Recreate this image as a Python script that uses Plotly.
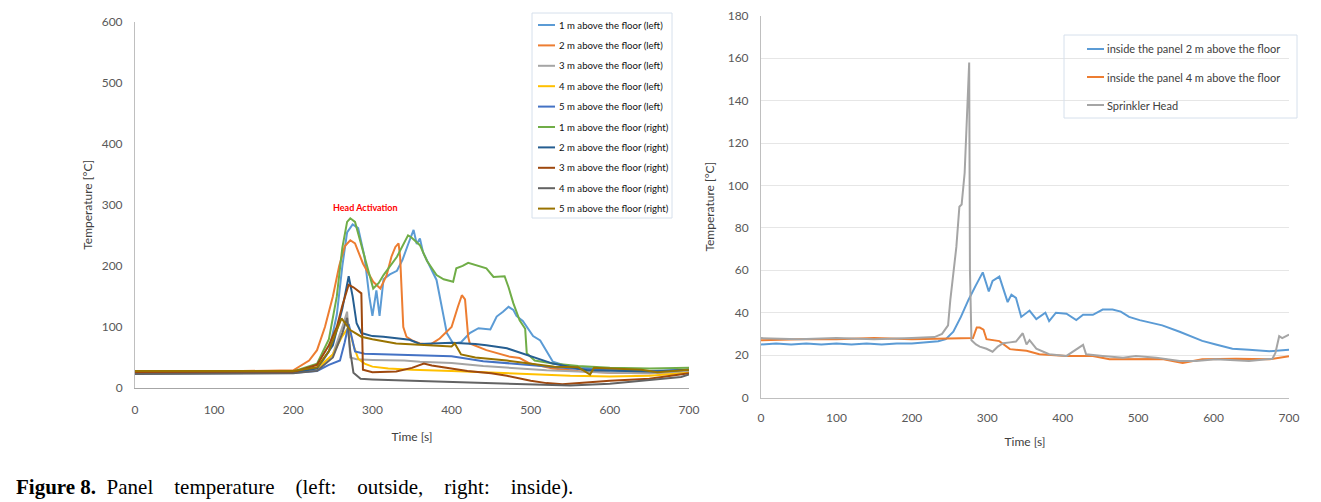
import plotly.graph_objects as go

# ---------------- Left chart (outside panel) ----------------
t_l1 = [0, 100, 200, 230, 245, 255, 262, 268, 275, 282, 290, 296, 300, 305, 309, 314, 322, 331, 338, 345, 352, 356, 360, 364, 373, 381, 390, 394, 402, 412, 423, 434, 449, 457, 465, 472, 478, 482, 490, 503, 512, 520, 528, 540, 560, 600, 650, 700]
T_l1 = [25, 25, 26, 30, 60, 120, 200, 255, 268, 262, 215, 150, 118, 160, 118, 178, 186, 192, 210, 235, 259, 236, 245, 222, 199, 177, 117, 90, 73, 75, 90, 98, 96, 117, 125, 133, 128, 118, 110, 85, 78, 60, 43, 38, 34, 30, 27, 28]

t_l2 = [0, 100, 200, 220, 230, 240, 250, 258, 265, 272, 278, 288, 301, 310, 318, 324, 329, 333, 335, 337, 339, 343, 350, 360, 373, 385, 400, 408, 413, 417, 421, 423, 444, 474, 486, 499, 528, 560, 600, 650, 700]
T_l2 = [27, 27, 29, 45, 62, 100, 150, 200, 232, 242, 237, 204, 174, 163, 185, 215, 231, 237, 215, 144, 100, 84, 78, 73, 71, 81, 100, 133, 152, 145, 84, 73, 62, 51, 49, 40, 32, 28, 25, 24, 27]

t_l3 = [0, 100, 200, 230, 250, 262, 268, 272, 280, 300, 340, 360, 400, 440, 480, 520, 560, 600, 650, 700]
T_l3 = [25, 25, 26, 30, 55, 100, 125, 50, 47, 46, 45, 43, 41, 36, 32, 29, 27, 25, 24, 27]

t_l4 = [0, 100, 200, 230, 250, 262, 270, 276, 282, 290, 300, 320, 350, 400, 450, 500, 550, 600, 650, 700]
T_l4 = [26, 26, 27, 32, 55, 85, 100, 70, 48, 40, 35, 32, 30, 28, 25, 22, 20, 19, 20, 25]

t_l5 = [0, 100, 200, 230, 245, 259, 265, 270, 274, 278, 290, 340, 360, 400, 440, 480, 520, 560, 600, 650, 700]
T_l5 = [24, 24, 25, 28, 38, 45, 75, 105, 80, 60, 56, 54, 54, 52, 44, 40, 35, 31, 29, 28, 30]

t_r1 = [0, 100, 200, 230, 245, 255, 262, 268, 272, 278, 285, 293, 301, 308, 314, 331, 345, 349, 360, 369, 381, 390, 402, 406, 414, 421, 436, 444, 453, 467, 472, 478, 486, 493, 495, 505, 528, 560, 600, 650, 700]
T_r1 = [27, 27, 27, 40, 80, 150, 230, 272, 278, 272, 240, 199, 163, 172, 185, 215, 250, 247, 234, 208, 185, 178, 174, 196, 200, 205, 199, 196, 182, 183, 165, 139, 111, 97, 57, 45, 40, 36, 33, 32, 33]

t_r2 = [0, 100, 200, 230, 250, 262, 270, 275, 280, 286, 300, 314, 347, 360, 400, 430, 444, 470, 495, 528, 571, 655, 700]
T_r2 = [24, 24, 25, 32, 70, 130, 183, 150, 106, 90, 85, 84, 79, 72, 74, 72, 70, 65, 54, 40, 29, 27, 30]

t_r3 = [0, 100, 200, 230, 245, 255, 262, 270, 276, 286, 288, 300, 330, 350, 365, 375, 390, 400, 420, 450, 470, 500, 520, 540, 560, 600, 650, 700]
T_r3 = [25, 25, 26, 38, 70, 100, 135, 169, 165, 155, 30, 26, 27, 33, 40, 37, 34, 33, 28, 24, 20, 12, 8, 6, 8, 12, 15, 24]

t_r4 = [0, 100, 200, 230, 250, 262, 268, 272, 276, 285, 300, 350, 400, 450, 500, 550, 600, 650, 690, 700]
T_r4 = [23, 23, 24, 28, 50, 90, 115, 60, 25, 15, 14, 12, 10, 8, 6, 4, 7, 13, 18, 22]

t_r5 = [0, 100, 200, 230, 245, 255, 261, 272, 286, 300, 330, 400, 404, 412, 430, 470, 500, 530, 560, 575, 580, 600, 640, 660, 700]
T_r5 = [28, 28, 28, 34, 60, 95, 114, 95, 84, 80, 73, 68, 73, 55, 50, 45, 40, 35, 34, 22, 33, 32, 30, 26, 30]

left_names = ["1 m above the floor (left)", "2 m above the floor (left)", "3 m above the floor (left)",
              "4 m above the floor (left)", "5 m above the floor (left)", "1 m above the floor (right)",
              "2 m above the floor (right)", "3 m above the floor (right)", "4 m above the floor (right)",
              "5 m above the floor (right)"]
left_colors = ["#5B9BD5", "#ED7D31", "#A5A5A5", "#FFC000", "#4472C4",
               "#70AD47", "#255E91", "#9E480E", "#636363", "#997300"]
left_t = [t_l1, t_l2, t_l3, t_l4, t_l5, t_r1, t_r2, t_r3, t_r4, t_r5]
left_T = [T_l1, T_l2, T_l3, T_l4, T_l5, T_r1, T_r2, T_r3, T_r4, T_r5]

# ---------------- Right chart (inside panel) ----------------
t_in2 = [0, 20, 40, 60, 80, 100, 120, 140, 160, 180, 200, 220, 235, 245, 255, 265, 275, 285, 294, 302, 307, 316, 320, 327, 332, 338, 345, 356, 365, 377, 382, 391, 405, 418, 427, 440, 453, 466, 477, 488, 502, 515, 532, 555, 572, 585, 603, 625, 647, 674, 700]
T_in2 = [25, 25.5, 25, 25.5, 25, 25.5, 25, 25.5, 25, 25.5, 25.5, 26, 26.5, 27.5, 31, 38, 46, 53, 59, 50, 55, 57, 53, 45, 48.5, 47, 38, 41, 37, 40, 36, 40, 39.5, 36.5, 39, 39, 41.5, 41.5, 40.5, 38, 36.5, 35.5, 34, 31, 28.5, 26.7, 25, 23, 22.5, 21.8, 22.5]

t_in4 = [0, 50, 100, 150, 200, 250, 281, 286, 290, 295, 299, 316, 330, 352, 369, 405, 440, 462, 497, 532, 559, 585, 630, 674, 700]
T_in4 = [27, 27.5, 27.5, 28, 27.5, 28, 28, 33, 33, 32, 27.5, 26.6, 22.8, 22, 20.4, 19.6, 19.6, 18, 18, 18.2, 16.3, 18, 18.3, 18, 19.5]

t_sp = [0, 50, 100, 150, 200, 230, 240, 248, 251, 255, 259, 263, 266, 270, 273, 276, 277, 279, 285, 290, 299, 307, 314, 321, 330, 338, 347, 352, 356, 365, 382, 405, 427, 431, 453, 480, 497, 524, 555, 577, 603, 647, 678, 682, 687, 691, 700]
T_sp = [28, 27.5, 28, 27.5, 28, 28.5, 30, 34, 46, 60, 71, 90, 91, 106, 130, 158, 60, 27, 25, 24, 23, 21.6, 24, 25.6, 26, 26.4, 30.3, 25, 27, 23, 20.4, 19.6, 24.8, 20.4, 19.6, 18.8, 19.6, 18.8, 17.2, 17.2, 18, 17.2, 18.3, 21, 28.9, 28, 29.7]

right_names = ["inside the panel 2 m above the floor", "inside the panel 4 m above the floor", "Sprinkler Head"]
right_colors = ["#5B9BD5", "#ED7D31", "#A5A5A5"]
right_t = [t_in2, t_in4, t_sp]
right_T = [T_in2, T_in4, T_sp]

x_ticks = [0, 100, 200, 300, 400, 500, 600, 700]

# The page body has an 8 px margin: the figure starts 8 px in, so it is sized to end at the window edge
OFF = 8
W, H = 1321 - 2 * OFF, 502 - OFF
FONT = "Lato, 'Open Sans', sans-serif"


def px_x(p):
    return (p - OFF) / W


def px_y(p):
    return 1 - (p - OFF) / H


fig = go.Figure()
for i in range(10):
    fig.add_trace(go.Scatter(x=left_t[i], y=left_T[i], mode="lines", name=left_names[i],
                             line=dict(color=left_colors[i], width=2),
                             xaxis="x", yaxis="y", showlegend=False))
for i in range(3):
    fig.add_trace(go.Scatter(x=right_t[i], y=right_T[i], mode="lines", name=right_names[i],
                             line=dict(color=right_colors[i], width=2),
                             xaxis="x2", yaxis="y2", showlegend=False))

tickfont = dict(family=FONT, size=12, color="#595959")
titlefont = dict(family=FONT, size=12, color="#404040")

fig.update_layout(
    width=W, height=H,
    margin=dict(l=0, r=0, t=0, b=0, autoexpand=False),
    paper_bgcolor="white", plot_bgcolor="white",
    showlegend=False,
    xaxis=dict(domain=[px_x(135), px_x(689)], range=[0, 700], tickvals=x_ticks, showgrid=False,
               showline=True, linecolor="#A6A6A6", linewidth=1, zeroline=False, ticks="",
               automargin=False, ticklabelstandoff=11,
               tickfont=tickfont, title=dict(text="Time [s]", font=titlefont, standoff=16),
               anchor="y"),
    yaxis=dict(domain=[px_y(388), px_y(21.7)], range=[0, 600], dtick=100, showgrid=False,
               showline=True, linecolor="#BFBFBF", linewidth=1, zeroline=False, ticks="",
               automargin=False, ticklabelstandoff=9,
               tickfont=tickfont, title=dict(text="Temperature [°C]", font=titlefont, standoff=6),
               anchor="x"),
    xaxis2=dict(domain=[px_x(761), px_x(1289)], range=[0, 700], tickvals=x_ticks, showgrid=False,
                showline=True, linecolor="#BFBFBF", linewidth=1, zeroline=False, ticks="",
                automargin=False, ticklabelstandoff=9,
                tickfont=tickfont, title=dict(text="Time [s]", font=titlefont, standoff=13),
                anchor="y2"),
    yaxis2=dict(domain=[px_y(397.5), px_y(15.8)], range=[0, 180], dtick=20, showgrid=True,
                gridcolor="#E6E6E6", showline=True, linecolor="#BFBFBF", linewidth=1,
                zeroline=False, ticks="", automargin=False, ticklabelstandoff=9, tickfont=tickfont,
                title=dict(text="Temperature [°C]", font=titlefont, standoff=10), anchor="x2"),
)

shapes = []
annotations = []

# Left legend box and entries
shapes.append(dict(type="rect", xref="paper", yref="paper", x0=px_x(532), x1=px_x(672),
                   y0=px_y(218), y1=px_y(13), line=dict(color="#D6E0EC", width=1),
                   fillcolor="white", layer="above"))
for i, name in enumerate(left_names):
    yy = 25 + i * 20.4
    shapes.append(dict(type="line", xref="paper", yref="paper", x0=px_x(538), x1=px_x(555),
                       y0=px_y(yy), y1=px_y(yy), line=dict(color=left_colors[i], width=2), layer="above"))
    annotations.append(dict(x=px_x(557), y=px_y(yy), xref="paper", yref="paper", xanchor="left",
                            yanchor="middle", text=name, showarrow=False,
                            font=dict(family=FONT, size=9.6, color="#111111")))

# Right legend box and entries
shapes.append(dict(type="rect", xref="paper", yref="paper", x0=px_x(1064), x1=px_x(1297),
                   y0=px_y(118), y1=px_y(35), line=dict(color="#D6E0EC", width=1),
                   fillcolor="rgba(0,0,0,0)", layer="above"))
for i, name in enumerate(right_names):
    yy = 49 + i * 28
    shapes.append(dict(type="line", xref="paper", yref="paper", x0=px_x(1087), x1=px_x(1104),
                       y0=px_y(yy), y1=px_y(yy), line=dict(color=right_colors[i], width=2), layer="above"))
    annotations.append(dict(x=px_x(1105), y=px_y(yy), xref="paper", yref="paper", xanchor="left",
                            yanchor="middle", text=name, showarrow=False,
                            font=dict(family=FONT, size=11, color="#404040")))

annotations.append(dict(x=291, y=295, xref="x", yref="y", text="<b>Head Activation</b>", showarrow=False,
                        font=dict(family=FONT, size=9, color="#FF0000")))
gap = "&nbsp;&nbsp;&nbsp; "
caption = "<b>Figure 8.</b>&nbsp; Panel" + gap + "temperature" + gap + "(left:" + gap + "outside," + gap + "right:" + gap + "inside)."
annotations.append(dict(x=px_x(14), y=px_y(487), xref="paper", yref="paper", xanchor="left", yanchor="middle",
                        text=caption, showarrow=False,
                        font=dict(family="'Liberation Serif', 'Times New Roman', serif", size=21, color="#000000")))

fig.update_layout(shapes=shapes, annotations=annotations)

fig.write_html("out.html")
